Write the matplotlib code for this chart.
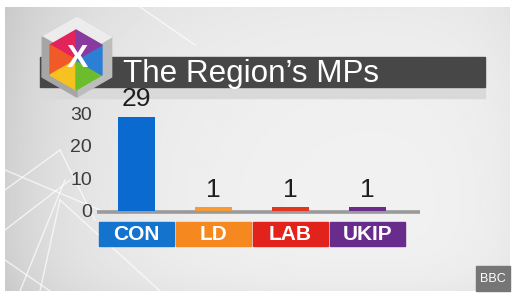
import numpy as np
import matplotlib
matplotlib.use("Agg")
import matplotlib.pyplot as plt
from matplotlib.patches import Rectangle, Polygon

# ---- data ----
parties = ["CON", "LD", "LAB", "UKIP"]
seats = [29, 1, 1, 1]
party_colors = ["#1473cc", "#f5891f", "#e2231c", "#6a2c8c"]
bar_colors = ["#0b6ad0", "#f59a35", "#e0351f", "#6b2b8b"]
yticks = [0, 10, 20, 30]
title = "The Region\u2019s MPs"

plt.rcParams['font.family'] = ['Liberation Sans', 'DejaVu Sans']

W, H = 517, 300
fig = plt.figure(figsize=(W / 100, H / 100), dpi=100, facecolor="white")

# ---- background / decoration axes (pixel coordinates) ----
bg = fig.add_axes([0, 0, 1, 1], zorder=0)
bg.set_xlim(0, W)
bg.set_ylim(H, 0)
bg.axis("off")

xs = np.linspace(0, 1, 300)
ys = np.linspace(0, 1, 200)
X, Y = np.meshgrid(xs, ys)
val = 0.95 - 0.13 * np.exp(-X / 0.18) - 0.03 * np.exp(-Y / 0.25) - 0.03 * np.exp(-(1 - Y) / 0.08) \
      - 0.03 * np.exp(-(1 - X) / 0.08)
bg.imshow(val, cmap="gray", vmin=0, vmax=1, extent=(5, 510, 291, 7), aspect="auto",
          interpolation="bilinear", zorder=0)

# faint light streaks on the left
streaks = [((5, 190), (60, 150)), ((5, 230), (70, 180)), ((20, 291), (65, 180)),
           ((40, 291), (60, 200)), ((5, 170), (100, 210)), ((60, 150), (95, 220)),
           ((140, 7), (195, 45)), ((5, 260), (50, 291)), ((60, 200), (160, 291))]
for (x0, y0), (x1, y1) in streaks:
    bg.plot([x0, x1], [y0, y1], color="white", lw=1.0, alpha=0.7, zorder=1)

# title bar
bg.add_patch(Rectangle((40, 87), 445, 11, color="#d9d9d9", zorder=2))
bg.add_patch(Rectangle((40, 57), 445, 30, color="#474747", zorder=2))
bg.text(123, 82, title, color="white", fontsize=22.6, va="baseline", ha="left", zorder=5)

# logo (cube with rainbow hexagon)
def hexagon(cx, cy, r):
    ang = np.deg2rad(np.arange(6) * 60 + 90)
    return np.column_stack([cx + r * np.cos(ang), cy - r * np.sin(ang)])

cxo, cyo = 77, 57
outer = hexagon(cxo, cyo, 40)
bg.add_patch(Polygon(outer, closed=True, color="#bdbdbd", zorder=3))
bg.add_patch(Polygon([outer[0], outer[1], (cxo, cyo), outer[5]], closed=True, color="#ececec", zorder=3))
bg.add_patch(Polygon([outer[1], outer[2], outer[3], (cxo, cyo)], closed=True, color="#a6a6a6", zorder=3))
ci, cj = 76, 60
inner = hexagon(ci, cj, 30)
rainbow = ["#e3245a", "#f05a28", "#f6c21f", "#6cbd2e", "#2b7fd4", "#8a3a9e"]
for i in range(6):
    tri = [(ci, cj), inner[i], inner[(i + 1) % 6]]
    bg.add_patch(Polygon(tri, closed=True, color=rainbow[i], zorder=4))
bg.text(77, 59, "X", color="white", fontsize=23, fontweight="bold", ha="center", va="center", zorder=5)

# BBC box
bg.add_patch(Rectangle((476, 266), 34, 25, color="#767676", zorder=2))
bg.text(493, 279, "BBC", color="white", fontsize=9, ha="center", va="center", zorder=5)

# ---- main chart axes ----
px_per_unit = 3.24
base_px = 210.5
ax_left, ax_right = 97, 420
ax_top, ax_bottom = 95, 247
ax = fig.add_axes([ax_left / W, (H - ax_bottom) / H, (ax_right - ax_left) / W, (ax_bottom - ax_top) / H],
                  zorder=1)
ax.patch.set_alpha(0)
spacing = 77.0
x = np.arange(len(parties))
ax.set_xlim(-(136.5 - ax_left) / spacing, 3 + (ax_right - 367.5) / spacing)
ax.set_ylim(-(ax_bottom - base_px) / px_per_unit, (base_px - ax_top) / px_per_unit)
for s in ax.spines.values():
    s.set_visible(False)

ax.bar(x, seats, width=0.47, color=bar_colors, zorder=3)
ax.axhline(-0.6, color="#9a9a9a", lw=2.6, zorder=2)

for xi, v in zip(x, seats):
    ax.annotate(str(v), (xi, v), xytext=(0, 4), textcoords="offset points",
                ha="center", va="bottom", fontsize=19, color="#1e1e1e")

ax.set_xticks([])
ax.set_yticks(yticks)
ax.set_yticklabels([str(t) for t in yticks], fontsize=14, color="#3c3c3c")
ax.tick_params(axis="y", length=0, pad=3.6)

# party label boxes
box_top = -(222 - base_px) / px_per_unit
box_bot = -(246 - base_px) / px_per_unit
for xi, name, c in zip(x, parties, party_colors):
    ax.add_patch(Rectangle((xi - 0.487, box_bot), 0.974, box_top - box_bot, color=c, zorder=3, clip_on=False))
    ax.text(xi, (box_top + box_bot) / 2, name, color="white", fontsize=15, fontweight="bold",
            ha="center", va="center", zorder=4)

fig.savefig("out.png", dpi=100, facecolor="white")
